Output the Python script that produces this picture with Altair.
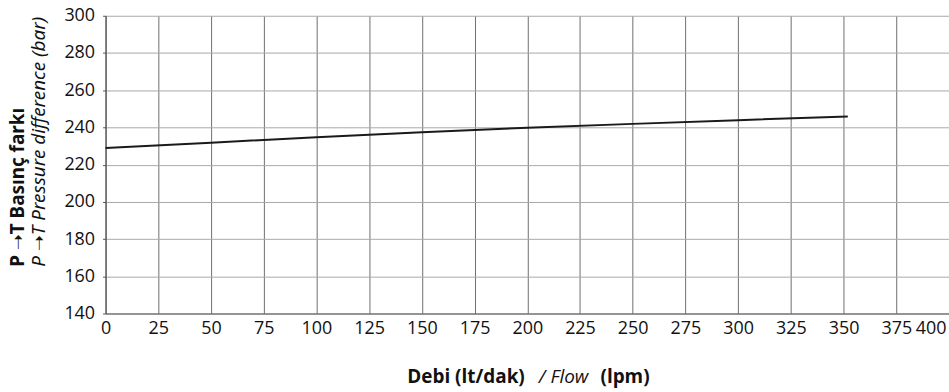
import altair as alt
import pandas as pd

# Flow (lpm) and pressure difference (bar)
flow = [0, 50, 100, 150, 200, 250, 300, 352]
pressure = [229.0, 231.8, 234.7, 237.4, 239.8, 241.9, 243.9, 245.9]

x_ticks = [0, 25, 50, 75, 100, 125, 150, 175, 200, 225, 250, 275, 300, 325, 350, 375, 400]
y_ticks = [140, 160, 180, 200, 220, 240, 260, 280, 300]

x_title_parts = ["Debi (lt/dak)", "/ Flow", "(lpm)"]
y_title_bold = "P \u279dT Bas\u0131n\u00e7 fark\u0131"
y_title_italic = "P \u279dT Pressure difference (bar)"

FONT = "Open Sans"
TFONT = "Noto Sans, DejaVu Sans"

df = pd.DataFrame({"flow": flow, "pressure": pressure})

line = alt.Chart(df).mark_line(color="#1a1a1a", strokeWidth=2).encode(
    x=alt.X(
        "flow:Q",
        scale=alt.Scale(domain=[0, 400], nice=False, zero=False),
        axis=alt.Axis(
            values=x_ticks,
            title=None,
            ticks=False,
            labelPadding=6,
            labelFontSize=18,
            labelFont=FONT,
            labelColor="#111",
            labelOverlap=False,
            gridColor="#6f6f6f",
            gridWidth=1,
            domainColor="#555",
            labelAlign={"condition": {"test": "datum.value == 400", "value": "right"}, "value": "center"},
            labelOffset={"condition": {"test": "datum.value == 400", "value": -3}, "value": 0},
        ),
    ),
    y=alt.Y(
        "pressure:Q",
        scale=alt.Scale(domain=[140, 300], nice=False, zero=False),
        axis=alt.Axis(
            values=y_ticks,
            title=None,
            tickSize=3,
            tickColor="#555",
            labelPadding=8,
            labelFontSize=18,
            labelFont=FONT,
            labelColor="#111",
            labelOverlap=False,
            gridColor="#a8a8a8",
            gridWidth=1,
            domainColor="#444",
        ),
    ),
)

def title_piece(i, align, xpos, style, weight):
    d = pd.DataFrame({"t": [x_title_parts[i]]})
    return alt.Chart(d).mark_text(
        align=align, baseline="alphabetic", font=FONT, fontSize=19,
        fontStyle=style, fontWeight=weight, color="#111",
    ).encode(text="t:N", x=alt.value(xpos), y=alt.value(369))

t1 = title_piece(0, "right", 421, "normal", "bold")
t2 = title_piece(1, "center", 460, "italic", "normal")
t3 = title_piece(2, "left", 497, "normal", "bold")

chart = alt.layer(line, t1, t2, t3).properties(
    width=847,
    height=299,
    autosize=alt.AutoSizeParams(type="none"),
    padding={"left": 106, "top": 15, "right": 0, "bottom": 78},
    title=alt.TitleParams(
        text=y_title_bold,
        subtitle=y_title_italic,
        orient="left",
        anchor="start",
        frame="group",
        dx=47,
        font=TFONT,
        fontSize=19,
        fontWeight="bold",
        color="#111",
        subtitleFont=TFONT,
        subtitleFontSize=19,
        subtitleFontStyle="italic",
        subtitleColor="#111",
        subtitlePadding=2,
        offset=15,
    ),
).configure_view(stroke=None)

chart.save("out.html", embed_options={"renderer": "svg", "actions": False})
